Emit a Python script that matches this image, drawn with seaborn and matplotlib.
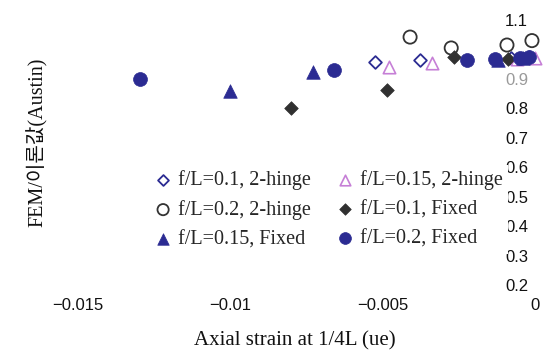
import matplotlib
matplotlib.use("Agg")
import matplotlib.pyplot as plt
import seaborn as sns
import pandas as pd

# Series: axial strain at 1/4L vs FEM / theory ratio
hinge_01_x = [-0.00525, -0.00377, -0.0008, -0.0002]
hinge_01_y = [0.957, 0.964, 0.972, 0.975]
hinge_015_x = [-0.0048, -0.00338, -0.0006, 0.0]
hinge_015_y = [0.940, 0.954, 0.968, 0.972]
hinge_02_x = [-0.0041, -0.00275, -0.00092, -0.0001]
hinge_02_y = [1.042, 1.005, 1.015, 1.030]
fixed_01_x = [-0.0080, -0.00485, -0.00265, -0.0009]
fixed_01_y = [0.800, 0.862, 0.974, 0.968]
fixed_015_x = [-0.0100, -0.00728, -0.0012, -0.0004]
fixed_015_y = [0.858, 0.923, 0.965, 0.970]
fixed_02_x = [-0.01295, -0.0066, -0.00223, -0.0013, -0.0005, -0.0002]
fixed_02_y = [0.900, 0.930, 0.964, 0.968, 0.972, 0.975]

labels = ["f/L=0.1, 2-hinge", "f/L=0.15, 2-hinge", "f/L=0.2, 2-hinge",
          "f/L=0.1, Fixed", "f/L=0.15, Fixed", "f/L=0.2, Fixed"]
xs = [hinge_01_x, hinge_015_x, hinge_02_x, fixed_01_x, fixed_015_x, fixed_02_x]
ys = [hinge_01_y, hinge_015_y, hinge_02_y, fixed_01_y, fixed_015_y, fixed_02_y]

x_ticks = [-0.015, -0.01, -0.005, 0]
x_tick_labels = ["\u22120.015", "\u22120.01", "\u22120.005", "0"]
y_ticks = [0.2, 0.3, 0.4, 0.5, 0.6, 0.7, 0.8, 0.9, 1.0, 1.1]
y_tick_labels = ["0.2", "0.3", "0.4", "0.5", "0.6", "0.7", "0.8", "0.9", "", "1.1"]

frames = []
for lab, x, y in zip(labels, xs, ys):
    frames.append(pd.DataFrame({"strain": x, "ratio": y, "case": lab}))
df = pd.concat(frames, ignore_index=True)

sns.set_theme(style="white")
serif = ["Liberation Serif", "Noto Sans CJK KR", "DejaVu Sans"]
plt.rcParams["font.family"] = ["Liberation Sans", "DejaVu Sans"]

fig = plt.figure(figsize=(5.47, 3.56), dpi=100)
ax = fig.add_axes([78 / 547, 1 - 285 / 356, (535 - 78) / 547, (285 - 20) / 356])

navy = "#2b2b92"
styles = {
    "f/L=0.1, 2-hinge": dict(marker="D", facecolor="white", edgecolor=navy, s=42, linewidth=1.3, z=3),
    "f/L=0.15, 2-hinge": dict(marker="^", facecolor="white", edgecolor="#c67fd6", s=80, linewidth=1.2, z=3),
    "f/L=0.1, Fixed": dict(marker="D", facecolor="#303030", edgecolor="#303030", s=48, linewidth=0.5, z=4),
    "f/L=0.15, Fixed": dict(marker="^", facecolor=navy, edgecolor=navy, s=95, linewidth=0.5, z=5),
    "f/L=0.2, Fixed": dict(marker="o", facecolor=navy, edgecolor=navy, s=100, linewidth=0.5, z=6),
    "f/L=0.2, 2-hinge": dict(marker="o", facecolor="none", edgecolor="#333333", s=90, linewidth=1.3, z=7),
}

handles = {}
for lab in labels:
    st = styles[lab]
    sub = df[df["case"] == lab]
    sns.scatterplot(data=sub, x="strain", y="ratio", ax=ax, marker=st["marker"],
                    facecolor=st["facecolor"], edgecolor=st["edgecolor"], s=st["s"],
                    linewidth=st["linewidth"], zorder=st["z"], clip_on=False, label=lab,
                    legend=False)
    handles[lab] = ax.collections[-1]

ax.set_xlim(-0.015, 0)
ax.set_ylim(0.2, 1.1)
ax.set_xticks(x_ticks)
ax.set_xticklabels(x_tick_labels)
ax.set_yticks(y_ticks)
ax.set_yticklabels(y_tick_labels)
for sp in ax.spines.values():
    sp.set_visible(False)
ax.spines["left"].set_position(("data", 0))
ax.tick_params(axis="both", length=0, labelsize=12, colors="#111111")
ax.tick_params(axis="x", pad=9)
ax.tick_params(axis="y", pad=5)
for t in ax.get_yticklabels():
    if t.get_text() == "0.9":
        t.set_color("#9a9a9a")

ax.set_xlabel("")
ax.set_ylabel("")
fig.text(295 / 547, 1 - 341 / 356, "Axial strain at 1/4L (ue)", family=serif,
         fontsize=15, ha="center", va="center", color="#111111")
fig.text(37 / 547, 1 - 142 / 356, "FEM/이론값(Austin)", family=serif, fontsize=14.5,
         rotation=90, ha="center", va="center", color="#111111")

order = ["f/L=0.1, 2-hinge", "f/L=0.2, 2-hinge", "f/L=0.15, Fixed",
         "f/L=0.15, 2-hinge", "f/L=0.1, Fixed", "f/L=0.2, Fixed"]
leg = ax.legend([handles[k] for k in order], order, ncol=2, loc="upper left",
                bbox_to_anchor=(150 / 547, 1 - 165 / 356), bbox_transform=fig.transFigure,
                prop={"family": serif, "size": 14.5}, frameon=True, framealpha=1,
                facecolor="white", edgecolor="none", fancybox=False,
                handlelength=0.8, handletextpad=0.35, columnspacing=1.3,
                labelspacing=0.5, borderpad=0.25, markerscale=0.85, borderaxespad=0)
leg.set_zorder(10)

fig.savefig("out.png", dpi=100, facecolor="white")
